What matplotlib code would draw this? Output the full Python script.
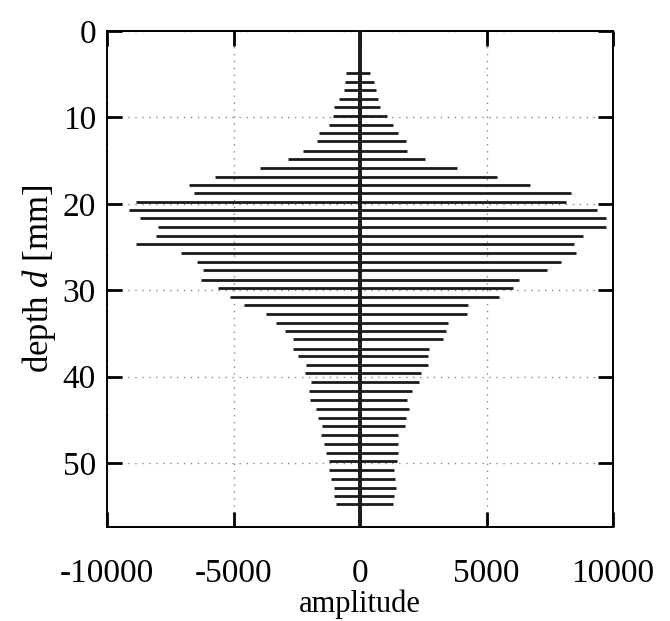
import matplotlib
matplotlib.use('Agg')
import matplotlib.pyplot as plt

# Echo peaks: depth [mm], negative and positive extent
depth = [4.88, 5.91, 6.80, 7.87, 8.84, 9.80, 10.84, 11.76, 12.76, 13.87,
         14.84, 15.83, 16.86, 17.83, 18.76, 19.83, 20.67, 21.67, 22.71, 23.67,
         24.70, 25.71, 26.71, 27.70, 28.82, 29.71, 30.74, 31.74, 32.77, 33.81,
         34.70, 35.65, 36.77, 37.66, 38.62, 39.57, 40.66, 41.65, 42.65, 43.69,
         44.73, 45.73, 46.77, 47.84, 48.81, 49.80, 50.76, 51.84, 52.88, 53.87,
         54.79]
amp_min = [-537, -602, -641, -838, -1034, -1086, -1230, -1610, -1689, -2238,
           -2841, -3940, -5733, -6754, -6558, -8849, -9137, -8705, -7972, -8063,
           -8862, -7069, -6453, -6192, -6296, -5603, -5157, -4568, -3704, -3312,
           -2958, -2657, -2631, -2448, -2134, -2173, -1937, -2003, -1977, -1741,
           -1649, -1505, -1545, -1414, -1348, -1230, -1230, -1165, -1034, -1021,
           -956]
amp_max = [406, 537, 615, 707, 772, 1060, 1309, 1518, 1820, 1859,
           2566, 3835, 5432, 6728, 8338, 8142, 9346, 9713, 9713, 8810,
           8456, 8535, 7946, 7383, 6296, 6048, 5485, 4254, 4215, 3469,
           3390, 3286, 2736, 2697, 2670, 2409, 2343, 2055, 1859, 1924,
           1820, 1780, 1518, 1505, 1492, 1466, 1348, 1388, 1427, 1348,
           1296]

xticks = [-10000, -5000, 0, 5000, 10000]
yticks = [0, 10, 20, 30, 40, 50]

plt.rcParams['font.family'] = 'Liberation Serif'
plt.rcParams['mathtext.fontset'] = 'custom'
plt.rcParams['mathtext.rm'] = 'Liberation Serif'
plt.rcParams['mathtext.it'] = 'Liberation Serif:italic'
plt.rcParams['axes.unicode_minus'] = False

fig = plt.figure(figsize=(6.7, 6.21), dpi=100)
ax = fig.add_axes([0.1597, 0.1514, 0.7553, 0.7986])

ax.axvline(0, color='#1a1a1a', lw=2.8, zorder=3)
ax.hlines(depth, amp_min, amp_max, color='#1a1a1a', lw=2.0, zorder=3)

ax.set_xlim(-10000, 10000)
ax.set_ylim(57.4, 0)
ax.set_xticks(xticks)
ax.set_yticks(yticks)
ax.grid(True, linestyle=(0, (1, 4)), color='#888888', lw=1)
ax.tick_params(direction='in', length=11, width=2, top=True, right=True,
               labelsize=24)
ax.tick_params(axis='x', pad=23)
ax.tick_params(axis='y', pad=8)
for s in ax.spines.values():
    s.set_linewidth(1.4)

ax.set_xlabel('amplitude', fontsize=22)
ax.xaxis.set_label_coords(0.5, -0.1714)
ax.xaxis.label.set_va('baseline')
ax.set_ylabel('depth $d$ [mm]', fontsize=25, labelpad=3)

plt.savefig('out.png', dpi=100)
